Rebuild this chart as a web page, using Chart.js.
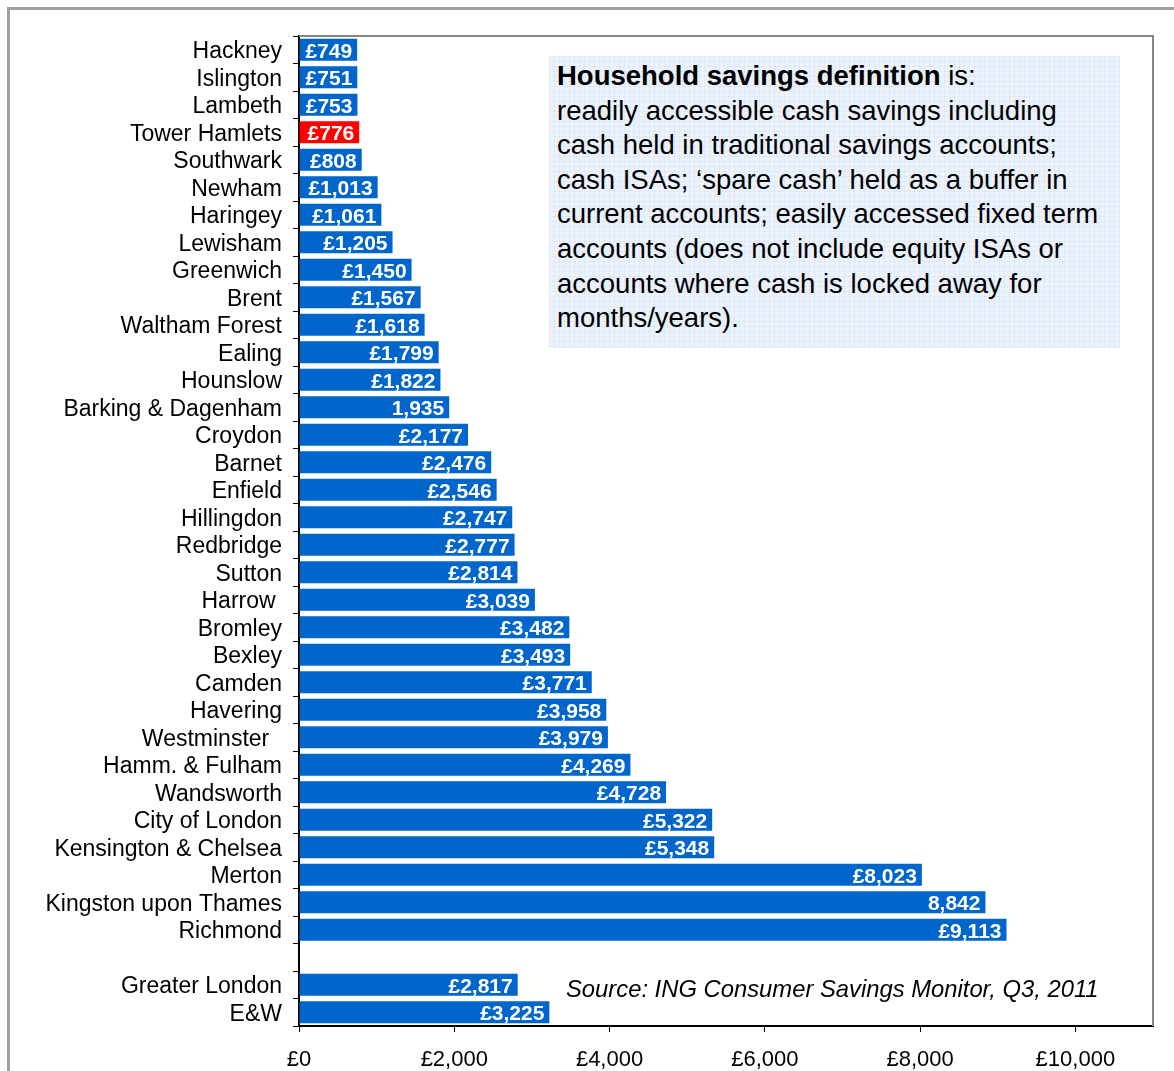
<!DOCTYPE html>
<html><head><meta charset="utf-8">
<script src="https://cdn.jsdelivr.net/npm/chart.js@4.4.1/dist/chart.umd.min.js"></script>
<style>
html,body{margin:0;padding:0;background:#fff;}
#wrap{position:relative;width:1174px;height:1071px;overflow:hidden;font-family:"Liberation Sans",Arial,sans-serif;background:#fff;}
#frame{position:absolute;left:7px;top:7px;width:1300px;height:1200px;border-left:3px solid #a0a0a0;border-top:3px solid #a0a0a0;}
#chart{position:absolute;left:0;top:0;}
#note{position:absolute;left:549px;top:56px;width:571px;height:292px;box-sizing:border-box;padding:3px 0 0 8px;
 background-color:#ecf3fd;
 background-image:linear-gradient(to right, rgba(200,215,240,0.3) 1px, transparent 1px),linear-gradient(to bottom, rgba(200,215,240,0.3) 1px, transparent 1px);
 background-size:5px 5px;
 font-size:27.5px;line-height:34.6px;color:#000;white-space:nowrap;}
#source{position:absolute;left:566px;top:976px;font-style:italic;font-size:23.8px;line-height:26px;color:#000;white-space:nowrap;}
</style>
</head><body>
<div id="wrap">
<div id="frame"></div>
<canvas id="chart" width="1174" height="1071"></canvas>
<div id="note"><b>Household savings definition</b> is:<br>readily accessible cash savings including<br>cash held in traditional savings accounts;<br>cash ISAs; ‘spare cash’ held as a buffer in<br>current accounts; easily accessed fixed term<br>accounts (does not include equity ISAs or<br>accounts where cash is locked away for<br>months/years).</div>
<div id="source">Source: ING Consumer Savings Monitor, Q3, 2011</div>
</div>
<script>
const categories = ["Hackney","Islington","Lambeth","Tower Hamlets","Southwark","Newham","Haringey","Lewisham","Greenwich","Brent","Waltham Forest","Ealing","Hounslow","Barking & Dagenham","Croydon","Barnet","Enfield","Hillingdon","Redbridge","Sutton","Harrow ","Bromley","Bexley","Camden","Havering","Westminster  ","Hamm. & Fulham","Wandsworth","City of London","Kensington & Chelsea","Merton","Kingston upon Thames","Richmond","","Greater London","E&W"];
const savings = [749,751,753,776,808,1013,1061,1205,1450,1567,1618,1799,1822,1935,2177,2476,2546,2747,2777,2814,3039,3482,3493,3771,3958,3979,4269,4728,5322,5348,8023,8842,9113,null,2817,3225];
const valueLabels = ["£749","£751","£753","£776","£808","£1,013","£1,061","£1,205","£1,450","£1,567","£1,618","£1,799","£1,822","1,935","£2,177","£2,476","£2,546","£2,747","£2,777","£2,814","£3,039","£3,482","£3,493","£3,771","£3,958","£3,979","£4,269","£4,728","£5,322","£5,348","£8,023","8,842","£9,113","","£2,817","£3,225"];
const highlight = "Tower Hamlets";
const xTicks = [0,2000,4000,6000,8000,10000];

const FONT = '"Liberation Sans", Arial, sans-serif';
Chart.defaults.font.family = FONT;

const barColors = categories.map(c => c.trim() === highlight ? '#ff0000' : '#0066cc');

const fmt = v => '£' + String(v).replace(/\B(?=(\d{3})+(?!\d))/g, ',');

const framePlugin = {
  id:'frame',
  beforeDatasetsDraw(chart){
    const {ctx, chartArea:a} = chart;
    ctx.save();
    ctx.strokeStyle = '#858585';
    ctx.lineWidth = 2;
    ctx.beginPath();
    ctx.moveTo(a.left, a.top);
    ctx.lineTo(a.right, a.top);
    ctx.lineTo(a.right, a.bottom);
    ctx.stroke();
    ctx.restore();
  }
};

const labelPlugin = {
  id:'barLabels',
  afterDatasetsDraw(chart){
    const {ctx} = chart;
    const meta = chart.getDatasetMeta(0);
    ctx.save();
    ctx.fillStyle = '#ffffff';
    ctx.font = 'bold 21px ' + FONT;
    ctx.textAlign = 'right';
    ctx.textBaseline = 'middle';
    meta.data.forEach((bar, i) => {
      if (!valueLabels[i] || savings[i] == null) return;
      ctx.fillText(valueLabels[i], bar.x - 5, bar.y + 2);
    });
    ctx.restore();
  }
};

new Chart(document.getElementById('chart'), {
  type:'bar',
  data:{
    labels: categories,
    datasets:[{
      data: savings,
      backgroundColor: barColors,
      borderWidth:0,
      barPercentage:0.8,
      categoryPercentage:1.0
    }]
  },
  options:{
    indexAxis:'y',
    responsive:false,
    animation:false,
    devicePixelRatio:1,
    layout:{padding:{left:0, top:36, right:21, bottom:0}},
    plugins:{legend:{display:false}, tooltip:{enabled:false}},
    scales:{
      x:{
        type:'linear', min:0, max:11000,
        afterBuildTicks: s => { s.ticks = xTicks.map(v => ({value:v})); },
        afterFit: s => { s.height = 45; },
        ticks:{ callback: v => fmt(v), font:{size:22, family:FONT}, color:'#000', padding:15, maxRotation:0, autoSkip:false },
        grid:{ drawOnChartArea:false, drawTicks:true, tickLength:6, color:'#000', lineWidth:1 },
        border:{ display:true, color:'#000', width:2 }
      },
      y:{
        type:'category',
        afterFit: s => { s.width = 299; },
        ticks:{ font:{size:23, family:FONT}, color:'#000', padding:11, autoSkip:false, labelOffset:2 },
        grid:{ offset:true, drawOnChartArea:false, drawTicks:true, tickLength:6, color:'#000', lineWidth:1 },
        border:{ display:true, color:'#000', width:2 }
      }
    }
  },
  plugins:[framePlugin, labelPlugin]
});
</script>
</body></html>
